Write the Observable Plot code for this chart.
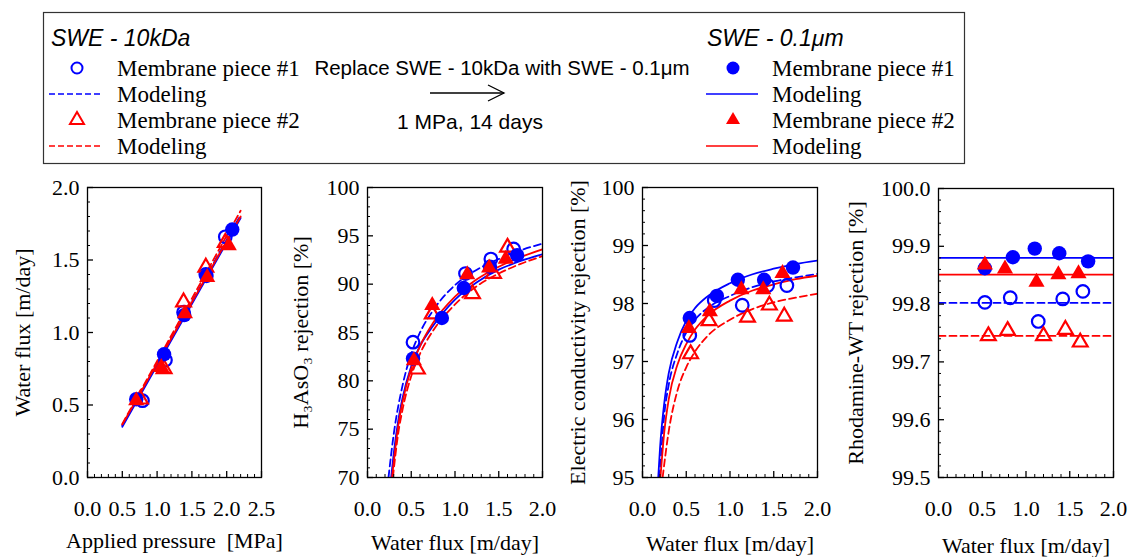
<!DOCTYPE html>
<html>
<head>
<meta charset="utf-8">
<script src="https://cdn.jsdelivr.net/npm/d3@7"></script>
<script src="https://cdn.jsdelivr.net/npm/@observablehq/plot@0.6"></script>
<style>
  html, body { margin: 0; padding: 0; background: #fff; }
  #wrap { position: relative; width: 1129px; height: 557px; overflow: hidden; background: #fff; }
  .panel { position: absolute; top: 170px; }
  #legend { position: absolute; left: 0; top: 0; }
</style>
</head>
<body>
<div id="wrap"></div>
<script>
// ---------------- DATA ----------------
const BLUE = "#0000ff", RED = "#ff0000";

// Panel 1: water flux [m/day] vs applied pressure [MPa]
const p1_pressure_10k_1 = [0.79, 1.12, 1.38, 1.70, 1.98];
const p1_flux_10k_1     = [0.53, 0.81, 1.14, 1.40, 1.66];
const p1_pressure_10k_2 = [0.76, 1.10, 1.38, 1.70, 1.98];
const p1_flux_10k_2     = [0.54, 0.75, 1.21, 1.45, 1.62];
const p1_pressure_01_1  = [0.70, 1.10, 1.39, 1.71, 2.08];
const p1_flux_01_1      = [0.54, 0.85, 1.12, 1.39, 1.71];
const p1_pressure_01_2  = [0.70, 1.06, 1.40, 1.72, 2.03];
const p1_flux_01_2      = [0.53, 0.76, 1.13, 1.38, 1.60];
const p1_model_pressure = [0.5, 2.2];
const p1_model_10k_1 = [0.36, 1.81];
const p1_model_10k_2 = [0.37, 1.84];
const p1_model_01_1  = [0.35, 1.79];
const p1_model_01_2  = [0.365, 1.80];

// Panel 2: H3AsO3 rejection [%] vs water flux
const p2_flux_10k_1 = [0.52, 1.12, 1.41, 1.67];
const p2_rej_10k_1  = [84.0, 91.1, 92.6, 93.65];
const p2_flux_10k_2 = [0.57, 0.74, 1.20, 1.44, 1.60];
const p2_rej_10k_2  = [81.2, 86.9, 89.0, 91.1, 93.8];
const p2_flux_01_1  = [0.52, 0.85, 1.10, 1.40, 1.71];
const p2_rej_01_1   = [82.3, 86.5, 89.6, 91.8, 93.0];
const p2_flux_01_2  = [0.53, 0.74, 1.14, 1.39, 1.58];
const p2_rej_01_2   = [82.1, 87.8, 91.0, 91.7, 92.6];
const p2_mflux_10k_1 = [0.24, 0.3, 0.4, 0.5, 0.6, 0.75, 1.0, 1.25, 1.5, 1.75, 2.0];
const p2_model_10k_1 = [70.0, 74.5, 79.5, 82.8, 85.0, 87.3, 89.9, 91.5, 92.6, 93.5, 94.2];
const p2_mflux_10k_2 = [0.29, 0.35, 0.4, 0.5, 0.6, 0.75, 1.0, 1.25, 1.5, 1.75, 2.0];
const p2_model_10k_2 = [70.0, 74.5, 77.0, 80.5, 82.8, 85.2, 87.9, 89.8, 91.1, 92.1, 92.9];
const p2_mflux_01_1  = [0.27, 0.3, 0.35, 0.4, 0.5, 0.6, 0.75, 1.0, 1.25, 1.5, 1.75, 2.0];
const p2_model_01_1  = [70.0, 72.5, 75.8, 78.2, 81.5, 83.6, 85.7, 88.4, 90.2, 91.5, 92.4, 93.1];
const p2_mflux_01_2  = [0.28, 0.35, 0.4, 0.5, 0.6, 0.75, 1.0, 1.25, 1.5, 1.75, 2.0];
const p2_model_01_2  = [70.0, 75.3, 77.8, 81.3, 83.6, 86.0, 88.7, 90.5, 91.8, 92.8, 93.6];

// Panel 3: electric conductivity rejection [%] vs water flux
const p3_flux_10k_1 = [0.54, 0.82, 1.14, 1.43, 1.65];
const p3_rej_10k_1  = [97.45, 98.05, 97.97, 98.31, 98.31];
const p3_flux_10k_2 = [0.55, 0.76, 1.20, 1.45, 1.62];
const p3_rej_10k_2  = [97.13, 97.70, 97.76, 97.97, 97.78];
const p3_flux_01_1  = [0.54, 0.85, 1.09, 1.39, 1.72];
const p3_rej_01_1   = [97.75, 98.13, 98.41, 98.41, 98.62];
const p3_flux_01_2  = [0.53, 0.77, 1.13, 1.38, 1.60];
const p3_rej_01_2   = [97.57, 97.86, 98.24, 98.24, 98.52];
const p3_mflux_10k_1 = [0.195, 0.25, 0.3, 0.4, 0.5, 0.6, 0.75, 1.0, 1.25, 1.5, 1.75, 2.0];
const p3_model_10k_1 = [95.0, 96.1, 96.6, 97.15, 97.5, 97.72, 97.93, 98.13, 98.28, 98.38, 98.45, 98.51];
const p3_mflux_10k_2 = [0.23, 0.3, 0.4, 0.5, 0.6, 0.75, 1.0, 1.25, 1.5, 1.75, 2.0];
const p3_model_10k_2 = [95.0, 95.8, 96.5, 96.9, 97.17, 97.45, 97.72, 97.9, 98.02, 98.1, 98.17];
const p3_mflux_01_1  = [0.18, 0.2, 0.25, 0.3, 0.4, 0.5, 0.6, 0.75, 1.0, 1.25, 1.5, 1.75, 2.0];
const p3_model_01_1  = [95.0, 95.5, 96.3, 96.8, 97.35, 97.7, 97.92, 98.13, 98.35, 98.5, 98.6, 98.68, 98.74];
const p3_mflux_01_2  = [0.205, 0.25, 0.3, 0.4, 0.5, 0.6, 0.75, 1.0, 1.25, 1.5, 1.75, 2.0];
const p3_model_01_2  = [95.0, 95.8, 96.35, 96.95, 97.3, 97.55, 97.8, 98.05, 98.22, 98.33, 98.42, 98.48];

// Panel 4: Rhodamine-WT rejection [%] vs water flux
const p4_flux_10k_1 = [0.53, 0.82, 1.14, 1.42, 1.65];
const p4_rej_10k_1  = [99.803, 99.811, 99.770, 99.809, 99.822];
const p4_flux_10k_2 = [0.57, 0.79, 1.20, 1.45, 1.62];
const p4_rej_10k_2  = [99.745, 99.754, 99.745, 99.756, 99.734];
const p4_flux_01_1  = [0.53, 0.85, 1.10, 1.38, 1.71];
const p4_rej_01_1   = [99.862, 99.881, 99.896, 99.888, 99.874];
const p4_flux_01_2  = [0.53, 0.76, 1.12, 1.37, 1.60];
const p4_rej_01_2   = [99.868, 99.861, 99.838, 99.851, 99.853];
const p4_model_flux = [0.0, 2.0];
const p4_model_10k_1 = [99.802, 99.802];
const p4_model_10k_2 = [99.745, 99.745];
const p4_model_01_1  = [99.880, 99.880];
const p4_model_01_2  = [99.851, 99.851];

// Legend / annotation texts
const legendLeftTitle = "SWE - 10kDa";
const legendRightTitle = "SWE - 0.1\u03bcm";
const legendItems = ["Membrane piece #1", "Modeling", "Membrane piece #2", "Modeling"];
const arrowTextTop = "Replace SWE - 10kDa with SWE - 0.1\u03bcm";
const arrowTextBottom = "1 MPa, 14 days";

// ---------------- HELPERS ----------------
const SERIF = "'Liberation Serif', 'Times New Roman', serif";
const SANS = "'Liberation Sans', Arial, sans-serif";
const zip = (xs, ys) => xs.map((x, i) => ({x, y: ys[i]}));
const range = (a, b, s) => d3.range(Math.round((b - a) / s) + 1).map(i => +(a + i * s).toFixed(4));
const minorOf = (a, b, s, majors) => range(a, b, s).filter(v => !majors.some(m => Math.abs(m - v) < 1e-6));

function seriesMarks(sets) {
  const marks = [];
  for (const m of sets.models) {
    marks.push(Plot.line(zip(m.x, m.y), {
      x: "x", y: "y", stroke: m.color, strokeWidth: 1.8,
      strokeDasharray: m.dashed ? "7,4" : null, curve: "monotone-x", clip: true
    }));
  }
  marks.push(Plot.dot(zip(sets.o1.x, sets.o1.y), {x: "x", y: "y", r: 6.3, stroke: BLUE, strokeWidth: 2.2, fill: "none"}));
  marks.push(Plot.dot(zip(sets.o2.x, sets.o2.y), {x: "x", y: "y", r: 5.5, symbol: "triangle", stroke: RED, strokeWidth: 2.2, fill: "none"}));
  marks.push(Plot.dot(zip(sets.f1.x, sets.f1.y), {x: "x", y: "y", r: 7.2, fill: BLUE, stroke: "none"}));
  marks.push(Plot.dot(zip(sets.f2.x, sets.f2.y), {x: "x", y: "y", r: 6, symbol: "triangle", fill: RED, stroke: "none"}));
  return marks;
}

function panel(cfg) {
  const xMinor = minorOf(cfg.xDomain[0], cfg.xDomain[1], cfg.xMinorStep, cfg.xTicks);
  const yMinor = minorOf(cfg.yDomain[0], cfg.yDomain[1], cfg.yMinorStep, cfg.yTicks);
  const chart = Plot.plot({
    width: cfg.width, height: 387,
    marginLeft: cfg.ml, marginRight: cfg.mr, marginTop: cfg.mt, marginBottom: 80,
    x: {domain: cfg.xDomain},
    y: {domain: cfg.yDomain},
    style: {fontFamily: SERIF, fontSize: "22px", color: "#000", background: "transparent", overflow: "visible"},
    marks: [
      ...seriesMarks(cfg.sets),
      Plot.frame({stroke: "#000", strokeWidth: 1.3}),
      // tick marks (inward), no text
      Plot.axisX(cfg.xTicks, {tickSize: -6, tickFormat: () => "", label: null, strokeWidth: 1.3}),
      Plot.axisX(xMinor, {tickSize: -3, tickFormat: () => "", label: null, strokeWidth: 1}),
      Plot.axisY(cfg.yTicks, {tickSize: -6, tickFormat: () => "", label: null, strokeWidth: 1.3}),
      Plot.axisY(yMinor, {tickSize: -3, tickFormat: () => "", label: null, strokeWidth: 1}),
      // tick labels
      Plot.text(cfg.xTicks, {x: d => d, frameAnchor: "bottom", dy: 31, text: cfg.xFmt, fontSize: 22, fontFamily: SERIF, textAnchor: "middle", lineAnchor: "middle"}),
      Plot.text(cfg.yTicks, {y: d => d, frameAnchor: "left", dx: -8, text: cfg.yFmt, fontSize: 22, fontFamily: SERIF, textAnchor: "end", lineAnchor: "middle"}),
      // axis titles
      Plot.text([cfg.xLabel], {frameAnchor: "bottom", dy: cfg.xLabelDy, fontSize: 22, fontFamily: SERIF, text: d => d, textAnchor: "middle", lineAnchor: "middle"}),
      Plot.text([cfg.yLabel], {frameAnchor: "left", dx: -cfg.yLabelDx, rotate: -90, fontSize: 22, fontFamily: SERIF, text: d => d, textAnchor: "middle", lineAnchor: "middle"})
    ]
  });
  chart.classList.add("panel");
  chart.style.left = cfg.left + "px";
  return chart;
}

const wrap = document.getElementById("wrap");
const f1 = d3.format(".1f"), f0 = d3.format("d");

wrap.appendChild(panel({
  left: 0, width: 290, ml: 87, mr: 29, mt: 17,
  xDomain: [0, 2.5], yDomain: [0, 2], xTicks: range(0, 2.5, 0.5), yTicks: range(0, 2, 0.5),
  xMinorStep: 0.1, yMinorStep: 0.1, xFmt: f1, yFmt: f1,
  xLabel: "Applied pressure\u00a0 [MPa]", xLabelDy: 63, yLabel: "Water flux [m/day]", yLabelDx: 65,
  sets: {
    models: [
      {x: p1_model_pressure, y: p1_model_01_1, color: BLUE, dashed: false},
      {x: p1_model_pressure, y: p1_model_10k_1, color: BLUE, dashed: true},
      {x: p1_model_pressure, y: p1_model_01_2, color: RED, dashed: false},
      {x: p1_model_pressure, y: p1_model_10k_2, color: RED, dashed: true}
    ],
    o1: {x: p1_pressure_10k_1, y: p1_flux_10k_1},
    o2: {x: p1_pressure_10k_2, y: p1_flux_10k_2},
    f1: {x: p1_pressure_01_1, y: p1_flux_01_1},
    f2: {x: p1_pressure_01_2, y: p1_flux_01_2}
  }
}));

wrap.appendChild(panel({
  left: 290, width: 270, ml: 77, mr: 18, mt: 17,
  xDomain: [0, 2], yDomain: [70, 100], xTicks: range(0, 2, 0.5), yTicks: range(70, 100, 5),
  xMinorStep: 0.1, yMinorStep: 1, xFmt: f1, yFmt: f0,
  xLabel: "Water flux [m/day]", xLabelDy: 65, yLabel: "H\u2083AsO\u2083 rejection [%]", yLabelDx: 67,
  sets: {
    models: [
      {x: p2_mflux_01_1, y: p2_model_01_1, color: BLUE, dashed: false},
      {x: p2_mflux_10k_1, y: p2_model_10k_1, color: BLUE, dashed: true},
      {x: p2_mflux_01_2, y: p2_model_01_2, color: RED, dashed: false},
      {x: p2_mflux_10k_2, y: p2_model_10k_2, color: RED, dashed: true}
    ],
    o1: {x: p2_flux_10k_1, y: p2_rej_10k_1},
    o2: {x: p2_flux_10k_2, y: p2_rej_10k_2},
    f1: {x: p2_flux_01_1, y: p2_rej_01_1},
    f2: {x: p2_flux_01_2, y: p2_rej_01_2}
  }
}));

wrap.appendChild(panel({
  left: 560, width: 270, ml: 82, mr: 13, mt: 17,
  xDomain: [0, 2], yDomain: [95, 100], xTicks: range(0, 2, 0.5), yTicks: range(95, 100, 1),
  xMinorStep: 0.1, yMinorStep: 0.2, xFmt: f1, yFmt: f0,
  xLabel: "Water flux [m/day]", xLabelDy: 66, yLabel: "Electric conductivity rejection [%]", yLabelDx: 65,
  sets: {
    models: [
      {x: p3_mflux_01_1, y: p3_model_01_1, color: BLUE, dashed: false},
      {x: p3_mflux_10k_1, y: p3_model_10k_1, color: BLUE, dashed: true},
      {x: p3_mflux_01_2, y: p3_model_01_2, color: RED, dashed: false},
      {x: p3_mflux_10k_2, y: p3_model_10k_2, color: RED, dashed: true}
    ],
    o1: {x: p3_flux_10k_1, y: p3_rej_10k_1},
    o2: {x: p3_flux_10k_2, y: p3_rej_10k_2},
    f1: {x: p3_flux_01_1, y: p3_rej_01_1},
    f2: {x: p3_flux_01_2, y: p3_rej_01_2}
  }
}));

wrap.appendChild(panel({
  left: 830, width: 299, ml: 108, mr: 16, mt: 18,
  xDomain: [0, 2], yDomain: [99.5, 100], xTicks: range(0, 2, 0.5), yTicks: range(99.5, 100, 0.1),
  xMinorStep: 0.1, yMinorStep: 0.02, xFmt: f1, yFmt: f1,
  xLabel: "Water flux [m/day]", xLabelDy: 68, yLabel: "Rhodamine-WT rejection [%]", yLabelDx: 83,
  sets: {
    models: [
      {x: p4_model_flux, y: p4_model_01_1, color: BLUE, dashed: false},
      {x: p4_model_flux, y: p4_model_10k_1, color: BLUE, dashed: true},
      {x: p4_model_flux, y: p4_model_01_2, color: RED, dashed: false},
      {x: p4_model_flux, y: p4_model_10k_2, color: RED, dashed: true}
    ],
    o1: {x: p4_flux_10k_1, y: p4_rej_10k_1},
    o2: {x: p4_flux_10k_2, y: p4_rej_10k_2},
    f1: {x: p4_flux_01_1, y: p4_rej_01_1},
    f2: {x: p4_flux_01_2, y: p4_rej_01_2}
  }
}));

// ---------------- LEGEND (SVG text) ----------------
const lg = d3.create("svg").attr("id", "legend").attr("width", 1129).attr("height", 168)
  .style("position", "absolute").style("left", "0px").style("top", "0px");
lg.append("rect").attr("x", 43.5).attr("y", 12.5).attr("width", 921).attr("height", 151)
  .attr("fill", "#fff").attr("stroke", "#333").attr("stroke-width", 1.2);

function txt(x, y, s, opt = {}) {
  lg.append("text").attr("x", x).attr("y", y).attr("dominant-baseline", "central")
    .attr("font-family", opt.family || SERIF).attr("font-size", opt.size || 23)
    .attr("font-style", opt.italic ? "italic" : null)
    .attr("text-anchor", opt.anchor || "start").attr("fill", "#000").text(s);
}
const rowsY = [68, 94, 120, 146];
const tri = d3.symbol(d3.symbolTriangle, 85)();

// left group (10kDa)
txt(51, 38, legendLeftTitle, {family: SANS, size: 23, italic: true});
lg.append("circle").attr("cx", 77).attr("cy", rowsY[0]).attr("r", 5.5).attr("fill", "none").attr("stroke", BLUE).attr("stroke-width", 2);
lg.append("line").attr("x1", 49).attr("x2", 103).attr("y1", rowsY[1]).attr("y2", rowsY[1]).attr("stroke", BLUE).attr("stroke-width", 1.5).attr("stroke-dasharray", "6,3");
lg.append("path").attr("d", tri).attr("transform", `translate(77,${rowsY[2]})`).attr("fill", "none").attr("stroke", RED).attr("stroke-width", 2);
lg.append("line").attr("x1", 49).attr("x2", 103).attr("y1", rowsY[3]).attr("y2", rowsY[3]).attr("stroke", RED).attr("stroke-width", 1.5).attr("stroke-dasharray", "6,3");
legendItems.forEach((s, i) => txt(117, rowsY[i], s));

// middle arrow annotation
txt(502, 67, arrowTextTop, {family: SANS, size: 20.5, anchor: "middle"});
lg.append("line").attr("x1", 430).attr("x2", 504).attr("y1", 93).attr("y2", 93).attr("stroke", "#000").attr("stroke-width", 1.3);
lg.append("path").attr("d", "M488,85 L504,93 L488,101").attr("fill", "none").attr("stroke", "#000").attr("stroke-width", 1.3);
txt(470, 121, arrowTextBottom, {family: SANS, size: 21, anchor: "middle"});

// right group (0.1um)
txt(707, 38, legendRightTitle, {family: SANS, size: 23, italic: true});
lg.append("circle").attr("cx", 733).attr("cy", rowsY[0]).attr("r", 6.5).attr("fill", BLUE);
lg.append("line").attr("x1", 706).attr("x2", 758).attr("y1", rowsY[1]).attr("y2", rowsY[1]).attr("stroke", BLUE).attr("stroke-width", 1.5);
lg.append("path").attr("d", tri).attr("transform", `translate(733,${rowsY[2]})`).attr("fill", RED);
lg.append("line").attr("x1", 706).attr("x2", 758).attr("y1", rowsY[3]).attr("y2", rowsY[3]).attr("stroke", RED).attr("stroke-width", 1.5);
legendItems.forEach((s, i) => txt(772, rowsY[i], s));

wrap.appendChild(lg.node());
</script>
</body>
</html>
